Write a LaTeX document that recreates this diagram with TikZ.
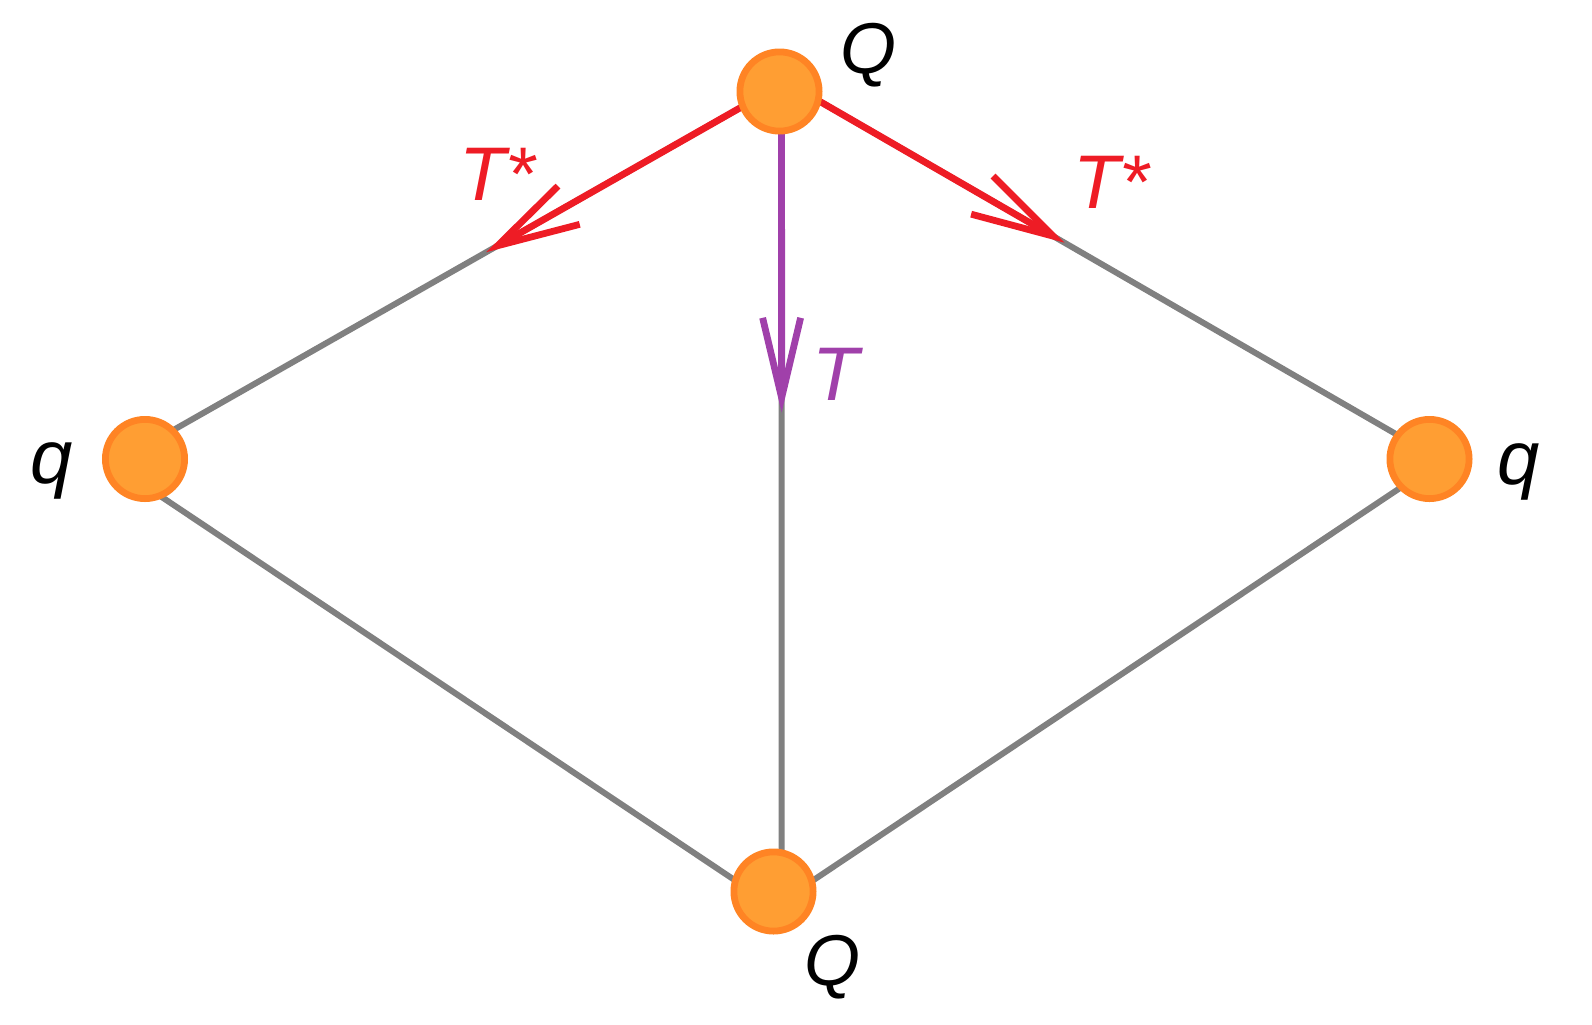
\documentclass[tikz,border=0pt]{standalone}
\usepackage{fontspec}
\setmainfont{Liberation Sans}
\usetikzlibrary{arrows.meta,calc,backgrounds}
\definecolor{nodeorange}{HTML}{FF9E33}
\definecolor{nodeborder}{HTML}{FF8424}
\definecolor{edgegray}{HTML}{808080}
\definecolor{arrowred}{HTML}{EE1C25}
\definecolor{arrowpurple}{HTML}{A040AA}
\begin{document}
\begin{tikzpicture}[x=0.5pt,y=-0.5pt,
  vertex/.style={circle,fill=nodeorange,draw=nodeborder,line width=3.4pt,minimum size=39.6pt,inner sep=0pt,outer sep=0pt},
  edge/.style={draw=edgegray,line width=3pt},
  redarrow/.style={draw=arrowred,line width=3.4pt,-{Straight Barb[length=41pt,width=22pt]}},
  purplearrow/.style={draw=arrowpurple,line width=3.4pt,-{Straight Barb[length=40pt,width=19pt]}},
  lbl/.style={inner sep=0pt,font=\fontsize{36}{40}\selectfont\itshape},
  tlbl/.style={inner sep=0pt,font=\fontsize{38}{42}\selectfont\itshape}]
\useasboundingbox (0,0) rectangle (1592,1024);
\node[vertex] (top) at (779.5,91.5) {};
\node[vertex] (left) at (145,459) {};
\node[vertex] (right) at (1429.5,459) {};
\node[vertex] (bot) at (773.5,891.5) {};
\begin{scope}[on background layer]
  \draw[edge] (top.202) -- (left.46);
  \draw[edge] (top.347.5) -- (right.143);
  \draw[edge] (top.273) -- (bot.78.5);
  \draw[edge] (left.292) -- (bot.164.5);
  \draw[edge] (right.225.5) -- (bot.15.5);
  \coordinate (tl) at ($(top.202)!0.45!(left.46)$);
  \coordinate (tr) at ($(top.347.5)!0.425!(right.143)$);
  \coordinate (tm) at ($(top.273)!0.39!(bot.78.5)$);
  \draw[redarrow] (top.202) -- (tl);
  \draw[redarrow] (top.347.5) -- (tr);
  \draw[purplearrow] (top.273) -- (tm);
\end{scope}
\node[lbl,anchor=base] (lqt) at (868,73) {Q};
\node[lbl,anchor=base] (lqb) at (832,985) {Q};
\node[tlbl,anchor=base] (lql) at (52,483) {q};
\node[tlbl,anchor=base] (lqr) at (1519,484) {q};
\node[tlbl,anchor=base,text=arrowred] (ltl) at (497,200) {T*};
\node[tlbl,anchor=base,text=arrowred] (ltr) at (1111,208) {T*};
\node[tlbl,anchor=base,text=arrowpurple] (ltm) at (836,400) {T};
\end{tikzpicture}
\end{document}
